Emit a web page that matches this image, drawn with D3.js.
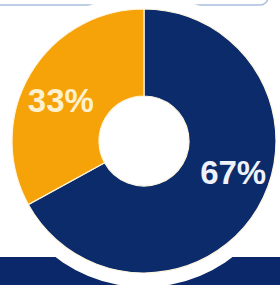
<!DOCTYPE html>
<html>
<head>
<meta charset="utf-8">
<script src="https://cdn.jsdelivr.net/npm/d3@7"></script>
<style>
  html, body { margin: 0; padding: 0; background: #ffffff; }
  svg { display: block; }
</style>
</head>
<body>
<svg id="chart" width="280" height="285"></svg>
<script>
// Donut: share of answers
var categories = ["Yes", "No"];
var values = [67, 33];
var labels = ["67%", "33%"];
var colors = ["#0c2b6b", "#f6a309"];

var svg = d3.select("#chart");
var width = +svg.attr("width");
var height = +svg.attr("height");

// centre and radii of the donut
var cx = 144, cy = 141;
var r_out = 132, r_in = 45;

// top box (cut off by the edge of the picture)
svg.append("rect")
  .attr("x", -10).attr("y", -30)
  .attr("width", 278).attr("height", 35)
  .attr("rx", 8)
  .attr("fill", "#ffffff")
  .attr("stroke", "#a9bfdc")
  .attr("stroke-width", 1.5);

// navy band at the bottom
svg.append("rect")
  .attr("x", 0).attr("y", 257)
  .attr("width", width).attr("height", height - 257)
  .attr("fill", "#0b286a");

// white ring cut out of the band
svg.append("circle")
  .attr("cx", cx).attr("cy", cy)
  .attr("r", r_out + 14)
  .attr("fill", "#ffffff");

var g = svg.append("g").attr("transform", "translate(" + cx + "," + cy + ")");

var pie = d3.pie().sort(null).value(function(d) { return d; });
var arcs = pie(values);

var arc = d3.arc().innerRadius(r_in).outerRadius(r_out);
var labelArc = d3.arc().innerRadius(92).outerRadius(92);

g.selectAll("path")
  .data(arcs)
  .enter()
  .append("path")
  .attr("d", arc)
  .attr("fill", function(d, i) { return colors[i]; })
  .attr("stroke", "#fff6e0")
  .attr("stroke-width", 1.2);

// label nudges (px) so they sit where the original has them
var nudge = [[10, -16], [-4, 6]];

g.selectAll("text")
  .data(arcs)
  .enter()
  .append("text")
  .attr("transform", function(d, i) {
    var c = labelArc.centroid(d);
    return "translate(" + (c[0] + nudge[i][0]) + "," + (c[1] + nudge[i][1]) + ")";
  })
  .attr("dy", "0.36em")
  .style("text-anchor", "middle")
  .style("font-family", "'Liberation Sans', Arial, sans-serif")
  .style("font-size", "33px")
  .style("font-weight", "bold")
  .style("fill", function(d, i) { return i === 0 ? "#eef2fa" : "#fdf1cf"; })
  .text(function(d, i) { return labels[i]; });
</script>
</body>
</html>
